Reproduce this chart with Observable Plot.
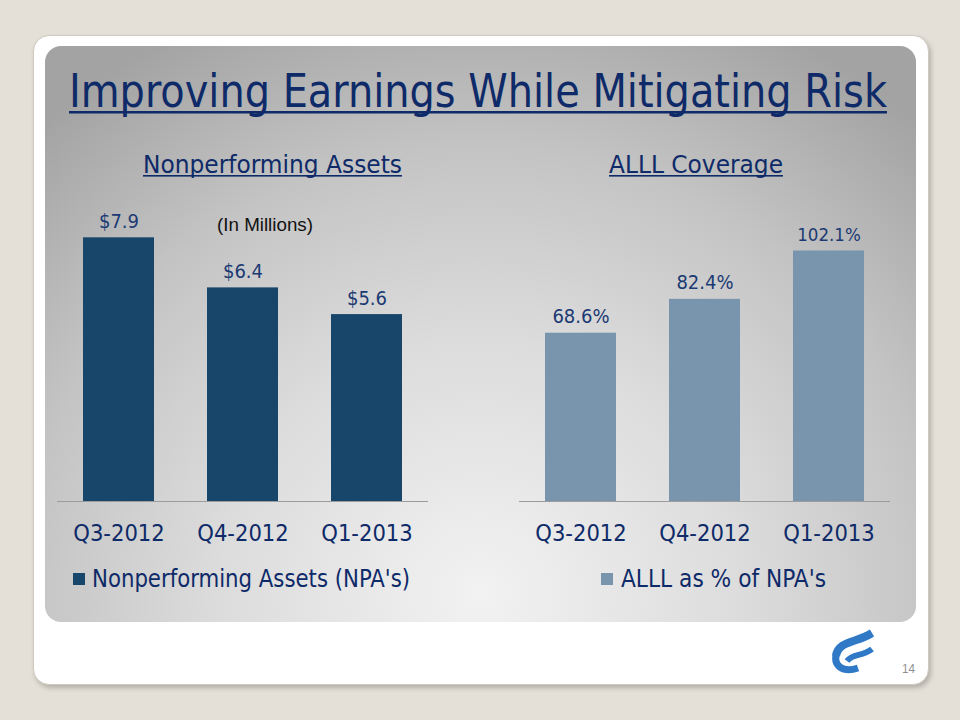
<!DOCTYPE html>
<html>
<head>
<meta charset="utf-8">
<script src="https://cdn.jsdelivr.net/npm/d3@7"></script>
<script src="https://cdn.jsdelivr.net/npm/@observablehq/plot@0.6"></script>
<style>
  html, body { margin: 0; padding: 0; }
  body { width: 960px; height: 720px; background: #e5e0d7; position: relative; overflow: hidden; }
  #card { position: absolute; left: 33px; top: 35px; width: 894px; height: 648px; background: #fff;
          border-radius: 16px; border: 1px solid #cfcac1; box-shadow: 2px 3px 5px rgba(0,0,0,0.22); }
  #panel { position: absolute; left: 45px; top: 46px; width: 871px; height: 576px; border-radius: 16px;
           background: radial-gradient(ellipse 75% 110% at 50% 95%, #f2f2f2 0%, #dcdcdc 40%, #c4c4c4 70%, #a3a3a3 100%); }
  .layer { position: absolute; left: 0; top: 0; }
  .plotwrap { position: absolute; top: 0; }
  .plotwrap svg { max-width: none !important; background: transparent !important; overflow: visible; }
</style>
</head>
<body>
<div id="card"></div>
<div id="panel"></div>
<svg id="deco" class="layer" width="960" height="720"></svg>
<div id="left" class="plotwrap" style="left:0px"></div>
<div id="right" class="plotwrap" style="left:480px"></div>
<script>
const titleText = "Improving Earnings While Mitigating Risk";
const leftTitle = "Nonperforming Assets";
const rightTitle = "ALLL Coverage";
const unitNote = "(In Millions)";
const quarters = ["Q3-2012", "Q4-2012", "Q1-2013"];
const npaValues = [7.9, 6.4, 5.6];
const npaLabels = ["$7.9", "$6.4", "$5.6"];
const alllValues = [68.6, 82.4, 102.1];
const alllLabels = ["68.6%", "82.4%", "102.1%"];
const leftLegend = "Nonperforming Assets (NPA's)";
const rightLegend = "ALLL as % of NPA's";
const pageNumber = "14";

const NAVY = "#0e2a68";
const TFONT = "'DejaVu Sans Condensed', 'DejaVu Sans', sans-serif";
const npaColor = "#17466a";
const alllColor = "#7895ad";

// ---- static slide decoration (text, underlines, legend swatches, logo)
const deco = d3.select("#deco");
function txt(s, x, y, len, size, fill, family) {
  deco.append("text").attr("x", x).attr("y", y).attr("textLength", len)
    .attr("lengthAdjust", "spacingAndGlyphs").attr("font-size", size)
    .attr("font-family", family || TFONT).attr("fill", fill).text(s);
}
txt(titleText, 69, 107, 818, 47, NAVY);
deco.append("rect").attr("x", 69).attr("y", 111).attr("width", 818).attr("height", 2.5).attr("fill", NAVY);
txt(leftTitle, 143, 173, 259, 25, NAVY);
deco.append("rect").attr("x", 143).attr("y", 175).attr("width", 259).attr("height", 1.6).attr("fill", NAVY);
txt(rightTitle, 609, 173, 174, 25, NAVY);
deco.append("rect").attr("x", 609).attr("y", 175).attr("width", 174).attr("height", 1.6).attr("fill", NAVY);
txt(unitNote, 217, 231, 96, 17.5, "#111", "'Liberation Sans', Arial, sans-serif");
deco.append("rect").attr("x", 73).attr("y", 573).attr("width", 12).attr("height", 12).attr("fill", npaColor);
txt(leftLegend, 92, 587, 318, 24.5, NAVY);
deco.append("rect").attr("x", 601).attr("y", 573).attr("width", 12).attr("height", 12).attr("fill", alllColor);
txt(rightLegend, 621, 587, 205, 24.5, NAVY);
txt(pageNumber, 902, 673, 13, 13, "#8f8f8f", "'Liberation Sans', Arial, sans-serif");
// logo
const logo = deco.append("g").attr("fill", "none").attr("stroke", "#2f79c6").attr("stroke-linecap", "butt");
logo.append("path").attr("d", "M836,656 C838,641 856,643 872,633").attr("stroke-width", 8);
logo.append("path").attr("d", "M837,652 C832,666 843,673 858,668").attr("stroke-width", 7);
logo.append("path").attr("d", "M847,661 C853,653 862,657 872,649").attr("stroke-width", 6);

// ---- charts
function chart(values, labels, color, domain, range, mL, mR) {
  const data = quarters.map((q, i) => ({q, v: values[i], label: labels[i]}));
  return Plot.plot({
    width: 480, height: 560,
    marginLeft: mL, marginRight: mR, marginTop: 180, marginBottom: 59,
    style: {background: "transparent", color: NAVY, overflow: "visible"},
    x: {domain: quarters, paddingInner: 0.43, paddingOuter: 0.21, label: null},
    y: {domain, range, axis: null},
    marks: [
      Plot.barY(data, {x: "q", y: "v", fill: color}),
      Plot.ruleY([0], {stroke: "#9c9c9c", strokeWidth: 1.2}),
      Plot.text(data, {x: "q", y: "v", text: "label", lineAnchor: "bottom", dy: -10,
        fontSize: d => d.v > 100 ? 18.5 : 20, fontFamily: TFONT, fill: "#1b3a73"}),
      Plot.axisX({tickSize: 0, tickPadding: 23, fontSize: 23.5, fontFamily: TFONT, label: null, fill: NAVY})
    ]
  });
}
document.getElementById("left").append(chart(npaValues, npaLabels, npaColor, [0, 9], [501, 200.6], 57, 52));
document.getElementById("right").append(chart(alllValues, alllLabels, alllColor, [0, 120], [501, 206.6], 39, 70));
</script>
</body>
</html>
